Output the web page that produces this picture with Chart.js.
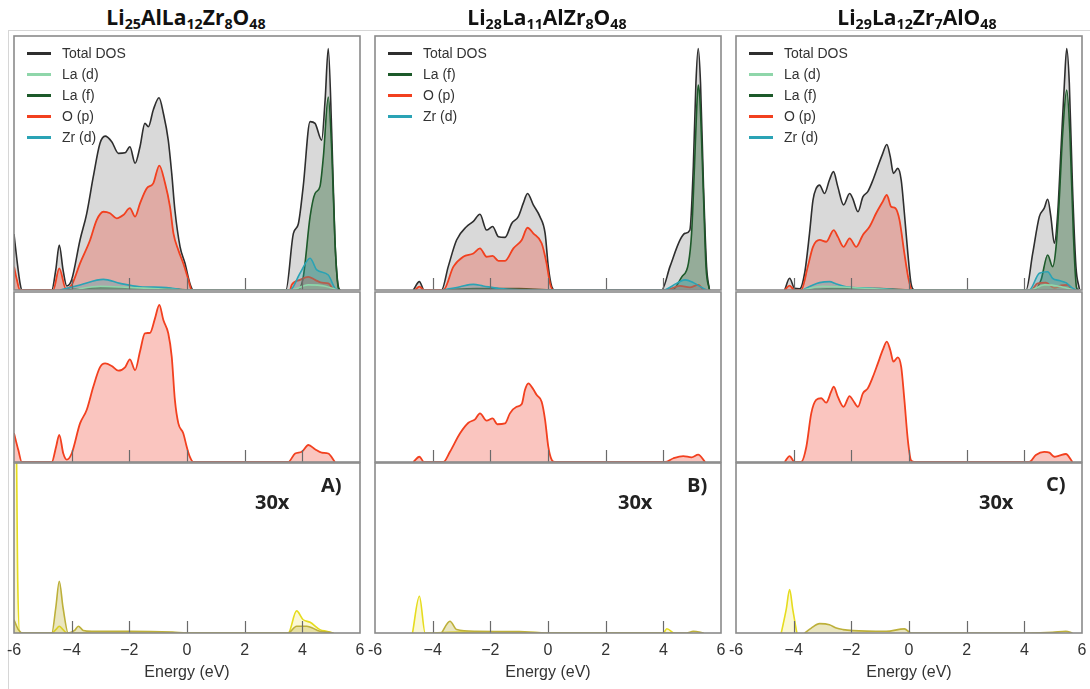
<!DOCTYPE html>
<html><head><meta charset="utf-8">
<script src="https://cdn.jsdelivr.net/npm/chart.js@4.4.1/dist/chart.umd.min.js"></script>
<style>
html,body{margin:0;padding:0;background:#fff;width:1090px;height:689px;overflow:hidden;position:relative;font-family:'Liberation Sans',Arial,sans-serif;}
canvas{position:absolute;}
.title{position:absolute;top:3px;font-family:'Open Sans',sans-serif;font-weight:700;font-size:21px;color:#111;transform:translateX(-50%);white-space:nowrap;line-height:28px;}
.title .s{font-size:0.68em;position:relative;top:0.3em;}
.legend{position:absolute;top:43px;font-size:14px;color:#333;}
.legend .row{height:21px;line-height:21px;white-space:nowrap;}
.legend .ln{display:inline-block;width:24px;height:2.5px;vertical-align:middle;margin-right:11px;position:relative;top:-1px;}
.tag{position:absolute;font-family:'Open Sans',sans-serif;font-weight:700;font-size:20px;color:#222;line-height:24px;transform:translateY(-50%);}
.hline{position:absolute;background:#d6d6d6;}
</style>
</head><body>
<div class="hline" style="left:8px;top:30px;width:1082px;height:1px"></div>
<div class="hline" style="left:8px;top:30px;width:1px;height:659px"></div>
<script>
// ---------- axis / labels ----------
const energyTicks = [-6,-4,-2,0,2,4,6];
const tickLabels = ['-6','−4','−2','0','2','4','6'];
const innerTicks = [-4,-2,0,2,4];
const axisTitle = 'Energy (eV)';
const titlesHTML = [
  'Li<span class="s">25</span>AlLa<span class="s">12</span>Zr<span class="s">8</span>O<span class="s">48</span>',
  'Li<span class="s">28</span>La<span class="s">11</span>AlZr<span class="s">8</span>O<span class="s">48</span>',
  'Li<span class="s">29</span>La<span class="s">12</span>Zr<span class="s">7</span>AlO<span class="s">48</span>'
];
const panelTags = ['A)','B)','C)'];
const scaleTag = '30x';
const legendA = ['total','lad','laf','op','zrd'];
const legendB = ['total','laf','op','zrd'];
const legendC = ['total','lad','laf','op','zrd'];

// ---------- data: [energy (eV), DOS (% of panel height)] ----------
// Panel A (Li25AlLa12Zr8O48)
const A_total = [[-6,22],[-5.9,12],[-5.78,2],[-5.72,0],[-4.69,0],[-4.55,8],[-4.43,17.7],[-4.3,8],[-4.17,1.6],[-4.0,4],[-3.71,19.7],[-3.48,30],[-3.25,44.6],[-3.02,57.7],[-2.84,60.6],[-2.61,58.4],[-2.38,53.8],[-2.15,54],[-1.98,56.4],[-1.80,49.9],[-1.63,56.4],[-1.46,65.6],[-1.34,64.3],[-1.17,70.9],[-0.97,75.7],[-0.82,69.6],[-0.65,59],[-0.53,45.9],[-0.42,31.5],[-0.24,17],[-0.07,10.5],[0.10,2.6],[0.22,0],[3.43,0],[3.69,22.3],[3.86,26],[4.03,40.7],[4.27,66.3],[4.44,65.6],[4.67,59],[4.79,74.8],[4.90,95.1],[5.02,61.7],[5.13,19.7],[5.25,1.3],[5.31,0]];
const A_op = [[-6,9.2],[-5.9,4],[-5.8,0],[-4.64,0],[-4.43,8.5],[-4.2,0.5],[-4.0,2],[-3.71,10.5],[-3.36,19.7],[-3.13,27.6],[-2.90,30.8],[-2.67,30.2],[-2.44,28.2],[-2.21,29.5],[-1.98,32.2],[-1.80,28.9],[-1.63,34.1],[-1.40,40],[-1.17,42],[-0.96,49],[-0.76,42],[-0.59,32.8],[-0.47,22.3],[-0.30,15.7],[-0.13,10.5],[0.05,4],[0.16,0],[3.57,0],[3.63,2],[3.92,4],[4.21,5.2],[4.44,4],[4.67,2.9],[4.90,2.6],[5.08,0]];
const A_laf = [[-4.2,0],[-3,0.8],[-1,0.8],[0.2,0],[3.80,0],[4.03,5],[4.27,29],[4.44,38],[4.61,40.7],[4.73,52.5],[4.90,76],[5.02,55],[5.13,19.7],[5.25,0.7],[5.31,0]];
const A_zrd = [[-4.4,0],[-3.71,2],[-2.90,4.2],[-2.32,2.6],[-1.63,1.3],[-0.71,1],[0,0],[3.57,0],[3.92,6.6],[4.27,12.5],[4.50,7.9],[4.90,5.9],[5.13,0.7],[5.25,0]];
const A_lad = [[-4.0,0],[-3.0,1.5],[-2.0,1],[-1.0,0.5],[0,0],[3.6,0],[4.2,2],[4.8,1.5],[5.2,0]];
const A_op_mid = [[-6,17],[-5.85,7],[-5.73,0],[-4.69,0],[-4.54,9],[-4.43,16],[-4.29,5],[-4.17,1.4],[-4.0,5],[-3.71,22.7],[-3.48,30.6],[-3.25,44.3],[-3.02,55.7],[-2.84,58],[-2.61,56.5],[-2.38,53.7],[-2.15,55.7],[-1.98,60.4],[-1.80,54],[-1.63,65],[-1.46,75.7],[-1.28,76],[-1.11,84.5],[-0.96,92.4],[-0.82,83.5],[-0.65,75.7],[-0.53,62],[-0.42,36.5],[-0.30,22.7],[-0.13,16.9],[-0.01,9],[0.10,3],[0.22,0],[3.51,0],[3.75,5],[3.98,6],[4.21,10],[4.44,7.5],[4.67,5.5],[4.90,5],[5.13,0]];
const A_al1 = [[-6,140],[-5.94,140],[-5.87,30],[-5.8,0],[-4.69,0],[-4.55,2],[-4.43,4],[-4.3,2],[-4.17,0],[3.51,0],[3.80,13],[4.03,7.8],[4.27,6.3],[4.61,2],[4.84,1],[5.08,0]];
const A_al2 = [[-6,7.8],[-5.85,2],[-5.68,0],[-4.69,0],[-4.55,15],[-4.43,30.4],[-4.3,15],[-4.12,0],[-3.9,1.5],[-3.77,4],[-3.6,1.5],[-3.3,1],[-2,1],[-0.5,0.5],[0,0],[3.51,0],[3.80,4],[4.15,4],[4.61,1],[4.9,0.5],[5.08,0]];
// Panel B (Li28La11AlZr8O48)
const B_total = [[-4.67,0],[-4.46,3.3],[-4.30,0],[-3.69,0],[-3.46,9.2],[-3.17,19.7],[-2.82,25],[-2.59,27],[-2.36,29.8],[-2.13,23.6],[-1.92,25],[-1.72,21],[-1.49,20.7],[-1.26,26.2],[-1.03,28.9],[-0.86,34.1],[-0.71,38],[-0.51,33.5],[-0.28,28.9],[-0.10,22.3],[0.01,9.2],[0.13,1.3],[0.24,0],[3.94,0],[4.23,9.2],[4.58,19.7],[4.75,22.3],[4.92,23.6],[5.04,48.6],[5.13,81.4],[5.21,95.1],[5.29,81.4],[5.39,42],[5.50,9.2],[5.60,0]];
const B_op = [[-4.61,0],[-4.46,1.3],[-4.3,0],[-3.63,0],[-3.28,9.2],[-2.94,13.1],[-2.59,14.4],[-2.36,16.4],[-2.13,13.1],[-1.92,13.4],[-1.72,11.5],[-1.49,11.5],[-1.20,16.4],[-0.91,19.7],[-0.71,24.5],[-0.51,22.3],[-0.22,18.4],[-0.05,10.5],[0.07,2.6],[0.18,0],[4.06,0],[4.58,1.6],[4.92,1],[5.21,2],[5.39,0]];
const B_laf = [[-3.6,0],[-2.5,0.6],[-1,0.6],[0.2,0],[4.3,0],[4.64,5.2],[4.87,10.5],[4.98,22.3],[5.08,48.6],[5.16,72.2],[5.21,80.7],[5.27,74.8],[5.39,38],[5.48,9.2],[5.60,0]];
const B_zrd = [[-3.63,0],[-3.05,1.3],[-2.59,2.2],[-2.25,1.6],[-1.7,0.6],[0,0],[4.0,0],[4.46,2.6],[4.75,4],[5.04,2.9],[5.39,0.6],[5.5,0]];
const B_op_mid = [[-4.67,0],[-4.46,3.1],[-4.30,0],[-3.63,0],[-3.40,6],[-3.05,16.9],[-2.76,23.1],[-2.53,25.1],[-2.36,28.6],[-2.13,24.3],[-1.92,25.7],[-1.76,22.2],[-1.49,22.7],[-1.32,28.6],[-1.09,32.5],[-0.91,34.1],[-0.80,42.4],[-0.68,46.3],[-0.53,43.3],[-0.39,39.4],[-0.22,35.5],[-0.10,24.7],[0.01,9],[0.13,1.2],[0.24,0],[4.06,0],[4.35,2.2],[4.69,3.5],[4.98,2.7],[5.21,4.3],[5.45,0]];
const B_al1 = [[-4.70,0],[-4.46,21.6],[-4.26,0],[-3,0.5],[-0.5,0.3],[0,0],[4.0,0],[4.12,2.5],[4.35,0]];
const B_al2 = [[-3.69,0],[-3.40,6.9],[-3.17,2],[-2.5,1],[-1,0.8],[0,0],[4.8,0],[5.04,1],[5.4,0]];
// Panel C (Li29La12Zr7AlO48)
const C_total = [[-4.31,0],[-4.14,4.6],[-3.97,0.7],[-3.79,0.5],[-3.62,6.6],[-3.45,22.3],[-3.33,35.4],[-3.22,40],[-3.10,41.3],[-2.93,38],[-2.76,43.3],[-2.62,46.6],[-2.47,40.7],[-2.27,33.5],[-2.06,38],[-1.95,36],[-1.77,30.8],[-1.60,36.7],[-1.43,38.7],[-1.25,43.3],[-1.08,48.6],[-0.91,53.8],[-0.77,57.3],[-0.65,52.5],[-0.54,45.9],[-0.39,47.9],[-0.27,43.3],[-0.16,30.2],[-0.04,14.4],[0.07,2.6],[0.19,0],[4.06,0],[4.29,14.4],[4.52,28.9],[4.69,32.2],[4.81,35.7],[4.92,28.9],[5.04,18.4],[5.15,28.9],[5.27,55.1],[5.39,81.4],[5.47,95.1],[5.56,81.4],[5.67,40.7],[5.79,9.2],[5.91,0.3]];
const C_op = [[-4.31,0],[-4.14,1.7],[-3.97,0],[-3.74,0],[-3.51,9.2],[-3.33,17],[-3.10,19.7],[-2.87,19],[-2.61,23.6],[-2.47,21],[-2.27,17],[-2.06,20.3],[-1.83,17],[-1.60,21.7],[-1.37,24.9],[-1.14,30.2],[-0.91,34.8],[-0.77,37.4],[-0.62,32.8],[-0.47,32.2],[-0.33,27.6],[-0.16,14.4],[-0.01,4],[0.11,0],[4.23,0],[4.46,2.6],[4.75,2.9],[5.04,0.8],[5.27,1.8],[5.50,2],[5.67,0]];
const C_laf = [[-3.7,0],[-2.5,0.6],[-1,0.6],[0.1,0],[4.35,0],[4.58,4],[4.81,13.8],[4.98,9.2],[5.10,17],[5.21,35.4],[5.33,61.7],[5.47,78.7],[5.58,61.7],[5.70,22.3],[5.81,1],[5.88,0]];
const C_zrd = [[-3.68,0],[-3.33,2],[-3.10,2.9],[-2.76,3.3],[-2.52,2.4],[-2.18,1.3],[-1.37,0.8],[0,0],[4.17,0],[4.52,6.6],[4.81,7.2],[4.98,4.6],[5.21,3.7],[5.44,2.9],[5.67,0.7],[5.8,0]];
const C_lad = [[-3.7,0],[-3.0,1.5],[-2.0,1],[0,0],[4.2,0],[4.7,2],[5.2,1.5],[5.7,0]];
const C_op_mid = [[-4.31,0],[-4.14,3.5],[-3.97,0],[-3.74,0],[-3.56,9],[-3.39,28.6],[-3.22,36.5],[-3.04,37.5],[-2.87,34.9],[-2.70,41.4],[-2.61,44.3],[-2.47,38.4],[-2.27,32.5],[-2.06,38.8],[-1.95,36.5],[-1.77,32.5],[-1.60,40.4],[-1.43,43.3],[-1.25,50.2],[-1.08,58],[-0.91,65.9],[-0.77,70.8],[-0.65,65.9],[-0.54,59],[-0.39,61.6],[-0.27,56],[-0.16,36.5],[-0.04,12.9],[0.07,1],[0.19,0],[4.17,0],[4.40,4.1],[4.69,6],[4.87,5.5],[5.04,3.1],[5.21,3.7],[5.44,4.7],[5.67,0]];
const C_al1 = [[-4.43,0],[-4.26,13.7],[-4.14,25.5],[-4.03,13.7],[-3.89,0]];
const C_al2 = [[-3.62,0],[-3.39,2.9],[-3.10,5.5],[-2.76,4.9],[-2.52,2.9],[-2.29,2],[-1.95,1.4],[-0.79,1],[-0.16,2.4],[0.07,0],[4.17,0],[4.98,0.4],[5.44,1],[5.67,0]];

// ---------- styles ----------
const STYLE = {
  total:{label:'Total DOS', line:'#2e2e2e', fill:'rgba(170,170,170,0.45)', w:1.6, order:5},
  lad:{label:'La (d)', line:'#8fd6aa', fill:'rgba(143,214,170,0.25)', w:1.6, order:1},
  laf:{label:'La (f)', line:'#1d5a2a', fill:'rgba(40,100,50,0.38)', w:1.6, order:4},
  op:{label:'O (p)', line:'#f2401f', fill:'rgba(240,80,60,0.33)', w:1.8, order:3},
  zrd:{label:'Zr (d)', line:'#2aa3b5', fill:'rgba(42,163,181,0.3)', w:1.6, order:2},
  al1:{label:'Al (s)', line:'#e6dc1e', fill:'rgba(235,225,70,0.22)', w:1.6, order:2},
  al2:{label:'Al (p)', line:'#bdb03a', fill:'rgba(190,176,58,0.32)', w:1.6, order:1}
};
const COL_LEFT = [14, 375, 736];
const PLOT_W = 346;

function ds(key, arr){
  const s = STYLE[key];
  return {label:s.label, data:arr.map(p=>({x:p[0], y:p[1]})), borderColor:s.line, backgroundColor:s.fill,
    borderWidth:s.w, fill:'origin', pointRadius:0, cubicInterpolationMode:'monotone', order:s.order};
}

const framePlugin = {
  id:'frame',
  afterDatasetsDraw(chart){
    const {ctx, chartArea:a, scales:{x}} = chart;
    ctx.save();
    ctx.strokeStyle = '#6a6a6a'; ctx.lineWidth = 1.2;
    innerTicks.forEach(v=>{
      const px = Math.round(x.getPixelForValue(v))+0.5;
      ctx.beginPath(); ctx.moveTo(px, a.bottom); ctx.lineTo(px, a.bottom-12); ctx.stroke();
    });
    ctx.strokeStyle = '#8a8a8a'; ctx.lineWidth = 1.6;
    ctx.strokeRect(a.left, a.top, a.width, a.height);
    ctx.restore();
  }
};

function makeChart(col, row, datasets){
  const c = document.createElement('canvas');
  let top, height, pad;
  if(row===0){ top=34; height=258; pad={left:20,right:20,top:2,bottom:2}; }
  else if(row===1){ top=290; height=174; pad={left:20,right:20,top:2,bottom:2}; }
  else { top=461; height=228; pad={left:20,right:20,top:2,bottom:0}; }
  c.width = PLOT_W+40; c.height = height;
  c.style.left = (COL_LEFT[col]-20)+'px'; c.style.top = top+'px';
  document.body.appendChild(c);
  const showX = row===2;
  new Chart(c, {
    type:'line',
    data:{datasets},
    options:{
      responsive:false, animation:false, devicePixelRatio:1,
      layout:{padding:pad},
      plugins:{legend:{display:false}, tooltip:{enabled:false}},
      scales:{
        x:{type:'linear', min:-6, max:6, display:showX,
          grid:{display:false, drawTicks:false}, border:{display:false},
          ticks:{stepSize:2, autoSkip:false, maxRotation:0, padding:8, color:'#333',
            font:{size:16, family:'Liberation Sans'},
            callback:(v)=>{const i = energyTicks.indexOf(v); return i>=0 ? tickLabels[i] : '';}},
          title:{display:true, text:axisTitle, color:'#333', font:{size:16, family:'Liberation Sans'}, padding:{top:0,bottom:7}},
          afterFit:(s)=>{ if(showX) s.height = 56; }
        },
        y:{min:0, max:100, display:false}
      }
    },
    plugins:[framePlugin]
  });
}

// top row
makeChart(0,0,[ds('total',A_total),ds('lad',A_lad),ds('laf',A_laf),ds('op',A_op),ds('zrd',A_zrd)]);
makeChart(1,0,[ds('total',B_total),ds('laf',B_laf),ds('op',B_op),ds('zrd',B_zrd)]);
makeChart(2,0,[ds('total',C_total),ds('lad',C_lad),ds('laf',C_laf),ds('op',C_op),ds('zrd',C_zrd)]);
// middle row
makeChart(0,1,[ds('op',A_op_mid)]);
makeChart(1,1,[ds('op',B_op_mid)]);
makeChart(2,1,[ds('op',C_op_mid)]);
// bottom row
makeChart(0,2,[ds('al1',A_al1),ds('al2',A_al2)]);
makeChart(1,2,[ds('al1',B_al1),ds('al2',B_al2)]);
makeChart(2,2,[ds('al1',C_al1),ds('al2',C_al2)]);

// titles, legends, tags
const titleCenters = [186, 547, 917];
titlesHTML.forEach((h,i)=>{
  const d = document.createElement('div'); d.className='title'; d.innerHTML=h;
  d.style.left = titleCenters[i]+'px'; document.body.appendChild(d);
});
[legendA, legendB, legendC].forEach((keys,i)=>{
  const L = document.createElement('div'); L.className='legend';
  L.style.left = (COL_LEFT[i]+13)+'px';
  keys.forEach(k=>{
    const r = document.createElement('div'); r.className='row';
    const ln = document.createElement('span'); ln.className='ln'; ln.style.background = STYLE[k].line;
    r.appendChild(ln); r.appendChild(document.createTextNode(STYLE[k].label));
    L.appendChild(r);
  });
  document.body.appendChild(L);
});
const tagPos = [[255,502,321,485],[618,502,687,485],[979,502,1046,484]];
tagPos.forEach((p,i)=>{
  const a = document.createElement('div'); a.className='tag'; a.textContent=scaleTag;
  a.style.left=p[0]+'px'; a.style.top=p[1]+'px'; document.body.appendChild(a);
  const b = document.createElement('div'); b.className='tag'; b.textContent=panelTags[i];
  b.style.left=p[2]+'px'; b.style.top=p[3]+'px'; document.body.appendChild(b);
});
</script>
</body></html>
